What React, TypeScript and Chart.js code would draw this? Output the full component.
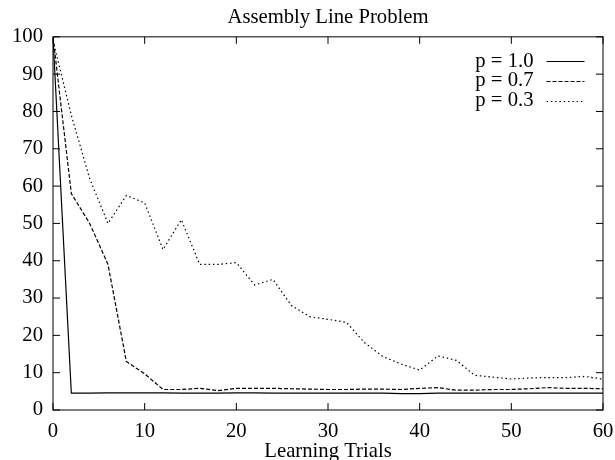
import React, { useEffect, useRef } from "react";
import { Chart, registerables } from "chart.js";

Chart.register(...registerables);

const chartTitle = "Assembly Line Problem";
const xAxisTitle = "Learning Trials";
const trials = [0, 2, 4, 6, 8, 10, 12, 14, 16, 18, 20, 22, 24, 26, 28, 30, 32, 34, 36, 38, 40, 42, 44, 46, 48, 50, 52, 54, 56, 58, 60];
const seriesLabels = ["p = 1.0", "p = 0.7", "p = 0.3"];
const p10 = [100, 4.5, 4.5, 4.6, 4.6, 4.6, 4.6, 4.5, 4.5, 4.5, 4.6, 4.6, 4.5, 4.5, 4.5, 4.5, 4.5, 4.5, 4.5, 4.4, 4.4, 4.5, 4.5, 4.5, 4.5, 4.5, 4.5, 4.5, 4.5, 4.5, 4.5];
const p07 = [100, 58, 50, 39, 13, 9.7, 5.5, 5.5, 5.8, 5.2, 5.8, 5.8, 5.8, 5.7, 5.6, 5.5, 5.5, 5.6, 5.6, 5.5, 5.8, 6.0, 5.3, 5.3, 5.5, 5.5, 5.7, 6.0, 5.8, 5.8, 5.7];
const p03 = [99, 79, 62, 50, 57.5, 55.5, 43, 51, 39, 39, 39.5, 33.5, 35, 28, 25, 24.3, 23.5, 18, 14.3, 12.3, 10.7, 14.5, 13.3, 9.3, 8.8, 8.3, 8.6, 8.7, 8.7, 9.0, 8.3];
const xTicks = [0, 10, 20, 30, 40, 50, 60];
const yTicks = [0, 10, 20, 30, 40, 50, 60, 70, 80, 90, 100];

const FONT = "'Liberation Serif', 'Times New Roman', serif";
const FS = 20.7;
const dashes = [[], [4, 2], [1.5, 2.8]];

const framePlugin = {
  id: "frame",
  afterDatasetsDraw(chart: any) {
    const { ctx, chartArea } = chart;
    const { left, right, top, bottom } = chartArea;
    const xs = chart.scales.x;
    const ys = chart.scales.y;
    ctx.save();
    ctx.strokeStyle = "#000";
    ctx.lineWidth = 1;
    ctx.setLineDash([]);
    ctx.strokeRect(left, top, right - left, bottom - top);
    const tl = 7;
    ctx.beginPath();
    xTicks.forEach((v) => {
      const px = xs.getPixelForValue(v);
      ctx.moveTo(px, bottom);
      ctx.lineTo(px, bottom - tl);
      ctx.moveTo(px, top);
      ctx.lineTo(px, top + tl);
    });
    yTicks.forEach((v) => {
      const py = ys.getPixelForValue(v);
      ctx.moveTo(left, py);
      ctx.lineTo(left + tl, py);
      ctx.moveTo(right, py);
      ctx.lineTo(right - tl, py);
    });
    ctx.stroke();

    // legend
    ctx.font = `${FS}px ${FONT}`;
    ctx.fillStyle = "#000";
    ctx.textAlign = "right";
    ctx.textBaseline = "alphabetic";
    chart.data.datasets.forEach((ds: any, i: number) => {
      const base = top + 29.7 + i * 19.7;
      ctx.fillText(ds.label, right - 69.5, base);
      const ly = Math.round(base - 5.3) + 0.5;
      ctx.beginPath();
      ctx.setLineDash(ds.borderDash || []);
      ctx.lineWidth = 1;
      ctx.moveTo(right - 56.5, ly);
      ctx.lineTo(right - 18.5, ly);
      ctx.stroke();
    });
    ctx.restore();
  },
};

export default function App() {
  const ref = useRef<HTMLCanvasElement | null>(null);
  useEffect(() => {
    if (!ref.current) return;
    const series = [p10, p07, p03];
    const chart = new Chart(ref.current, {
      type: "line",
      data: {
        datasets: series.map((vals, i) => ({
          label: seriesLabels[i],
          data: trials.map((t, j) => ({ x: t, y: vals[j] })),
          borderColor: "#000",
          borderWidth: 1.2,
          borderDash: dashes[i],
          pointRadius: 0,
          tension: 0,
          fill: false,
        })),
      },
      options: {
        animation: false,
        responsive: true,
        maintainAspectRatio: false,
        layout: { padding: { left: 0, right: 12, top: 0, bottom: 0 } },
        plugins: {
          legend: { display: false },
          tooltip: { enabled: false },
          title: {
            display: true,
            fullSize: false,
            text: chartTitle,
            color: "#000",
            font: { family: FONT, size: FS, weight: "normal", lineHeight: 1.2 },
            padding: { top: 5, bottom: 7 },
          },
        },
        scales: {
          x: {
            type: "linear",
            min: 0,
            max: 60,
            afterBuildTicks: (scale: any) => {
              scale.ticks = xTicks.map((v) => ({ value: v }));
            },
            afterFit: (scale: any) => {
              scale.height = 50;
              scale.paddingLeft = 0;
              scale.paddingRight = 0;
            },
            grid: { display: false, drawTicks: false },
            border: { display: false },
            ticks: {
              color: "#000",
              padding: 9,
              maxRotation: 0,
              autoSkip: false,
              font: { family: FONT, size: FS },
            },
            title: {
              display: true,
              text: xAxisTitle,
              color: "#000",
              font: { family: FONT, size: FS, lineHeight: 1 },
              padding: { top: 0, bottom: -2 },
            },
          },
          y: {
            type: "linear",
            min: 0,
            max: 100,
            afterBuildTicks: (scale: any) => {
              scale.ticks = yTicks.map((v) => ({ value: v }));
            },
            afterFit: (scale: any) => {
              scale.width = 53;
            },
            grid: { display: false, drawTicks: false },
            border: { display: false },
            ticks: {
              color: "#000",
              padding: 10,
              autoSkip: false,
              font: { family: FONT, size: FS },
            },
          },
        },
      },
      plugins: [framePlugin],
    });
    return () => chart.destroy();
  }, []);
  return (
    <div style={{ position: "fixed", left: 0, top: 0, width: 615, height: 460, background: "#fff" }}>
      <canvas ref={ref} />
    </div>
  );
}
